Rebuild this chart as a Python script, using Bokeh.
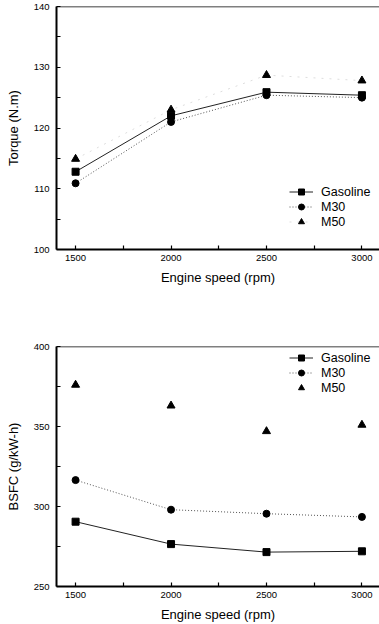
from bokeh.plotting import figure
from bokeh.layouts import column
from bokeh.models import FixedTicker, Legend, LegendItem, Span, Range1d
from bokeh.embed import file_html
from bokeh.resources import INLINE

speed = [1500, 2000, 2500, 3000]
torque_gasoline = [112.8, 122.0, 125.9, 125.4]
torque_m30 = [110.9, 121.0, 125.4, 125.0]
torque_m50 = [114.9, 123.0, 128.7, 127.8]
bsfc_gasoline = [290.5, 276.5, 271.5, 272.0]
bsfc_m30 = [316.5, 298.0, 295.5, 293.5]
bsfc_m50 = [376.0, 363.0, 347.0, 351.0]

x_ticks = [1500, 2000, 2500, 3000]
x_minor = [1750, 2250, 2750]
torque_ticks = [100, 110, 120, 130, 140]
torque_minor = [105, 115, 125, 135]
bsfc_ticks = [250, 300, 350, 400]
bsfc_minor = [275, 325, 375]

FONT = "Liberation Sans"


def make_fig(height, top, bottom, yr, yt, ym, ylabel):
    p = figure(width=379, height=height, output_backend="svg", toolbar_location=None,
               x_range=Range1d(1400, 3092), y_range=Range1d(*yr),
               min_border_left=56, min_border_right=0, min_border_top=top, min_border_bottom=bottom)
    p.grid.visible = False
    p.outline_line_color = None
    p.background_fill_color = "white"
    p.border_fill_color = "white"
    p.xaxis.ticker = FixedTicker(ticks=x_ticks, minor_ticks=x_minor)
    p.yaxis.ticker = FixedTicker(ticks=yt, minor_ticks=ym)
    for ax in (p.xaxis[0], p.yaxis[0]):
        ax.axis_line_width = 2
        ax.axis_line_color = "black"
        ax.major_tick_in = 4
        ax.major_tick_out = 0
        ax.minor_tick_in = 4
        ax.minor_tick_out = 0
        ax.major_tick_line_width = 1.2
        ax.minor_tick_line_width = 1.2
        ax.major_label_text_font = FONT
        ax.major_label_text_font_size = "9.5px"
        ax.major_label_text_color = "black"
        ax.axis_label_text_font = FONT
        ax.axis_label_text_font_size = "13px"
        ax.axis_label_text_font_style = "normal"
        ax.axis_label_text_color = "black"
    p.xaxis.axis_label = "Engine speed (rpm)"
    p.xaxis.major_label_standoff = 5
    p.xaxis.axis_label_standoff = 6
    p.yaxis.axis_label = ylabel
    p.yaxis.major_label_standoff = 7
    p.yaxis.axis_label_standoff = 10
    p.add_layout(Span(location=yr[1], dimension="width", line_color="black", line_width=1.5))
    return p


def make_legend(p, items, loc):
    leg = Legend(items=items, location=loc, padding=0, margin=0, spacing=0,
                 label_height=15, glyph_height=15, glyph_width=24, label_standoff=8,
                 border_line_color=None, background_fill_alpha=0,
                 label_text_font=FONT, label_text_font_size="12.5px", label_text_color="black")
    p.add_layout(leg)


# Torque panel
p1 = make_fig(300, 6, 51, (100, 140), torque_ticks, torque_minor, "Torque (N.m)")
g_l = p1.line(speed, torque_gasoline, line_color="#222222", line_width=1)
g_m = p1.scatter(speed, torque_gasoline, marker="square", size=7, color="black")
m30_l = p1.line(speed, torque_m30, line_color="#555555", line_width=1, line_dash="1 2")
m30_m = p1.scatter(speed, torque_m30, marker="circle", size=7, color="black")
m50_l = p1.line(speed, torque_m50, line_color="#dddddd", line_width=1, line_dash="2 6")
m50_m = p1.scatter(speed, torque_m50, marker="triangle", size=8, color="black")
make_legend(p1, [LegendItem(label="Gasoline", renderers=[g_l, g_m]),
                 LegendItem(label="M30", renderers=[m30_l, m30_m]),
                 LegendItem(label="M50", renderers=[m50_l, m50_m])], (233, 20))

# BSFC panel
p2 = make_fig(324, 46, 37, (250, 400), bsfc_ticks, bsfc_minor, "BSFC (g/kW-h)")
g_l2 = p2.line(speed, bsfc_gasoline, line_color="#222222", line_width=1)
g_m2 = p2.scatter(speed, bsfc_gasoline, marker="square", size=7, color="black")
m30_l2 = p2.line(speed, bsfc_m30, line_color="#555555", line_width=1, line_dash="1 2")
m30_m2 = p2.scatter(speed, bsfc_m30, marker="circle", size=7, color="black")
m50_m2 = p2.scatter(speed, bsfc_m50, marker="triangle", size=8, color="black")
make_legend(p2, [LegendItem(label="Gasoline", renderers=[g_l2, g_m2]),
                 LegendItem(label="M30", renderers=[m30_l2, m30_m2]),
                 LegendItem(label="M50", renderers=[m50_m2])], (233, 191))

layout = column(p1, p2, spacing=0)
open("out.html", "w").write(file_html(layout, INLINE))
